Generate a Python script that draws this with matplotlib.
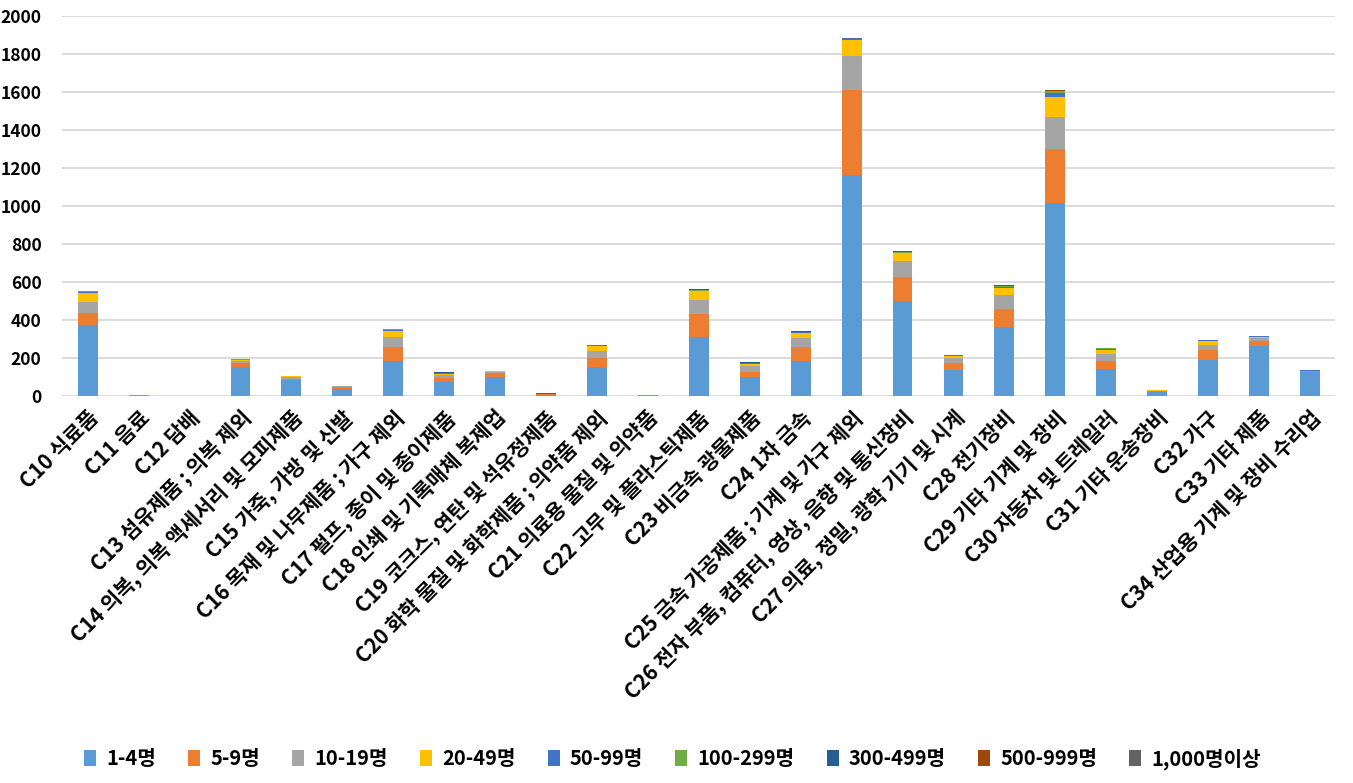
import numpy as np
import matplotlib
matplotlib.use('Agg')
import matplotlib.pyplot as plt

plt.rcParams['font.family'] = ['Noto Sans CJK KR', 'DejaVu Sans']
plt.rcParams['font.weight'] = 'bold'

# 업종
categories = [
    'C10 식료품', 'C11 음료', 'C12 담배', 'C13 섬유제품 ; 의복 제외',
    'C14 의복, 의복 액세서리 및 모피제품', 'C15 가죽, 가방 및 신발',
    'C16 목재 및 나무제품 ; 가구 제외', 'C17 펄프, 종이 및 종이제품',
    'C18 인쇄 및 기록매체 복제업', 'C19 코크스, 연탄 및 석유정제품',
    'C20 화학 물질 및 화학제품 ; 의약품 제외', 'C21 의료용 물질 및 의약품',
    'C22 고무 및 플라스틱제품', 'C23 비금속 광물제품', 'C24 1차 금속',
    'C25 금속 가공제품 ; 기계 및 가구 제외',
    'C26 전자 부품, 컴퓨터, 영상, 음향 및 통신장비',
    'C27 의료, 정밀, 광학 기기 및 시계', 'C28 전기장비', 'C29 기타 기계 및 장비',
    'C30 자동차 및 트레일러', 'C31 기타 운송장비', 'C32 가구', 'C33 기타 제품',
    'C34 산업용 기계 및 장비 수리업',
]

# 종사자 규모별 사업체 수
size_labels = ['1-4명', '5-9명', '10-19명', '20-49명', '50-99명',
               '100-299명', '300-499명', '500-999명', '1,000명이상']

s_1_4 = [376, 2, 0, 152, 83, 35, 185, 76, 98, 4, 154, 2, 310, 101, 185,
         1163, 500, 139, 365, 1014, 140, 19, 190, 264, 128]
s_5_9 = [63, 3, 0, 24, 5, 11, 74, 21, 22, 4, 48, 1, 124, 26, 74,
         448, 126, 36, 95, 284, 46, 7, 53, 27, 3]
s_10_19 = [58, 0, 0, 6, 11, 7, 53, 15, 4, 1, 37, 2, 69, 32, 48,
           180, 85, 26, 74, 172, 37, 2, 27, 16, 2]
s_20_49 = [43, 0, 0, 8, 7, 1, 32, 6, 5, 3, 22, 0, 47, 10, 23,
           83, 40, 11, 32, 105, 21, 4, 21, 5, 0]
s_50_99 = [9, 0, 0, 1, 0, 0, 5, 3, 1, 0, 5, 0, 5, 3, 6,
           10, 3, 2, 5, 18, 3, 0, 2, 2, 4]
s_100_299 = [4, 0, 0, 1, 0, 0, 3, 1, 0, 0, 3, 0, 4, 4, 2,
             1, 5, 3, 9, 11, 5, 0, 3, 3, 0]
s_300_499 = [1, 0, 0, 0, 0, 0, 1, 2, 0, 0, 1, 0, 2, 1, 3,
             1, 3, 0, 3, 3, 2, 0, 0, 0, 0]
s_500_999 = [0, 0, 0, 0, 0, 0, 0, 0, 0, 3, 0, 0, 1, 0, 0,
             0, 2, 0, 1, 1, 0, 0, 0, 0, 0]
s_1000 = [0, 0, 0, 0, 0, 0, 0, 0, 0, 0, 0, 0, 1, 0, 0,
          0, 1, 0, 1, 1, 0, 0, 0, 0, 0]

series = [s_1_4, s_5_9, s_10_19, s_20_49, s_50_99, s_100_299,
          s_300_499, s_500_999, s_1000]
colors = ['#5B9BD5', '#ED7D31', '#A5A5A5', '#FFC000', '#4472C4',
          '#70AD47', '#255E91', '#9E480E', '#636363']

fig = plt.figure(figsize=(13.53, 7.83), dpi=100)
ax = fig.add_axes([0.046, 0.4943, 0.941, 0.4853])

x = np.arange(len(categories))
bottom = np.zeros(len(categories))
for vals, col, lab in zip(series, colors, size_labels):
    vals = np.array(vals, dtype=float)
    ax.bar(x, vals, 0.39, bottom=bottom, color=col, label=lab, zorder=3)
    bottom += vals

ax.set_xlim(-0.5, len(categories) - 0.5)
ax.set_ylim(0, 2000)
ax.set_yticks(range(0, 2001, 200))
ax.yaxis.grid(True, color='#D9D9D9', linewidth=1.3, zorder=0)
for sp in ax.spines.values():
    sp.set_visible(False)
ax.tick_params(axis='both', length=0)
ax.tick_params(axis='y', labelsize=12.5, pad=15)
ax.set_xticks(x)
ax.set_xticklabels(categories, rotation=45, ha='right',
                   rotation_mode='anchor', fontsize=15, fontweight='bold')
ax.tick_params(axis='x', pad=8)
for t in ax.get_yticklabels():
    t.set_fontweight('bold')

fig.legend(loc='center', bbox_to_anchor=(0.497, 0.031), ncol=9,
           frameon=False, handlelength=0.6, handleheight=0.9,
           handletextpad=0.5, columnspacing=1.6,
           prop={'size': 14.5, 'weight': 'bold'})

fig.savefig('out.png', dpi=100)
